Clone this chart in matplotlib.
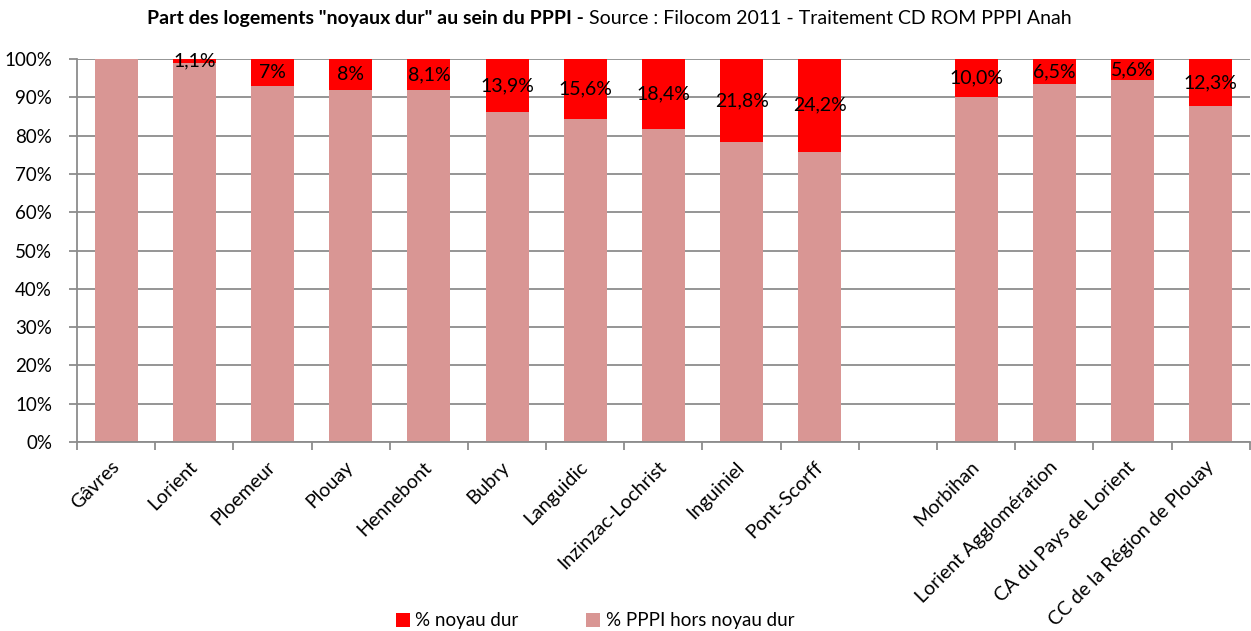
import matplotlib.pyplot as plt
import numpy as np

# data (one empty slot between the communes and the territories)
communes = ["Gâvres", "Lorient", "Ploemeur", "Plouay", "Hennebont", "Bubry",
            "Languidic", "Inzinzac-Lochrist", "Inguiniel", "Pont-Scorff", "",
            "Morbihan", "Lorient Agglomération", "CA du Pays de Lorient",
            "CC de la Région de Plouay"]
noyau_dur = [0.0, 1.1, 7.0, 8.0, 8.1, 13.9, 15.6, 18.4, 21.8, 24.2, None,
             10.0, 6.5, 5.6, 12.3]
labels = ["", "1,1%", "7%", "8%", "8,1%", "13,9%", "15,6%", "18,4%", "21,8%",
          "24,2%", "", "10,0%", "6,5%", "5,6%", "12,3%"]

RED = "#FF0000"
PINK = "#D99694"
GRID = "#8C8C8C"

plt.rcParams["font.family"] = ["Lato", "DejaVu Sans"]

x = np.arange(len(communes))
mask = np.array([v is not None for v in noyau_dur])
red = np.array([v if v is not None else 0 for v in noyau_dur])
pink = np.where(mask, 100 - red, 0)

fig = plt.figure(figsize=(12.51, 6.31), dpi=100)
ax = fig.add_axes([0.0616, 0.2995, 0.9374, 0.607])

width = 0.55
ax.bar(x[mask], pink[mask], width, color=PINK, label="% PPPI hors noyau dur", zorder=2)
ax.bar(x[mask], red[mask], width, bottom=pink[mask], color=RED,
       label="% noyau dur", zorder=2)

for xi, p, r, lab in zip(x, pink, red, labels):
    if lab:
        ax.text(xi, p + r / 2, lab, ha="center", va="center", fontsize=14, zorder=3)

ax.set_xlim(-0.5, len(communes) - 0.5)
ax.set_ylim(0, 100)
ax.set_yticks(np.arange(0, 101, 10))
ax.set_yticklabels([f"{v}%" for v in range(0, 101, 10)], fontsize=13.5)
ax.yaxis.grid(True, color=GRID, linewidth=1.3, zorder=0)
ax.set_axisbelow(True)

ax.set_xticks(x)
ax.set_xticklabels(communes, rotation=45, ha="right", va="center",
                   rotation_mode="anchor", fontsize=14)
ax.tick_params(axis="x", length=0, pad=16)
ax.set_xticks(np.arange(-0.5, len(communes), 1), minor=True)
ax.tick_params(axis="x", which="minor", length=6, color=GRID, width=1.3)
ax.tick_params(axis="y", length=6, color=GRID, width=1.3, pad=12)

for side in ["top", "right"]:
    ax.spines[side].set_visible(False)
for side in ["left", "bottom"]:
    ax.spines[side].set_color(GRID)
    ax.spines[side].set_linewidth(1.3)

t = fig.text(0.1175, 0.962, 'Part des logements "noyaux dur" au sein du PPPI - ',
             fontsize=14, fontweight="bold", ha="left", va="baseline")
ax.annotate("Source : Filocom 2011 - Traitement CD ROM PPPI Anah",
            xy=(1, 0), xycoords=t, ha="left", va="bottom", fontsize=14)

handles, leg_labels = ax.get_legend_handles_labels()
fig.legend(handles[::-1], leg_labels[::-1], loc="center", ncol=2,
           bbox_to_anchor=(0.4756, 0.016), frameon=False, fontsize=13.5,
           handlelength=0.75, handleheight=0.75, handletextpad=0.3,
           columnspacing=3.6)

fig.savefig("out.png", dpi=100)
